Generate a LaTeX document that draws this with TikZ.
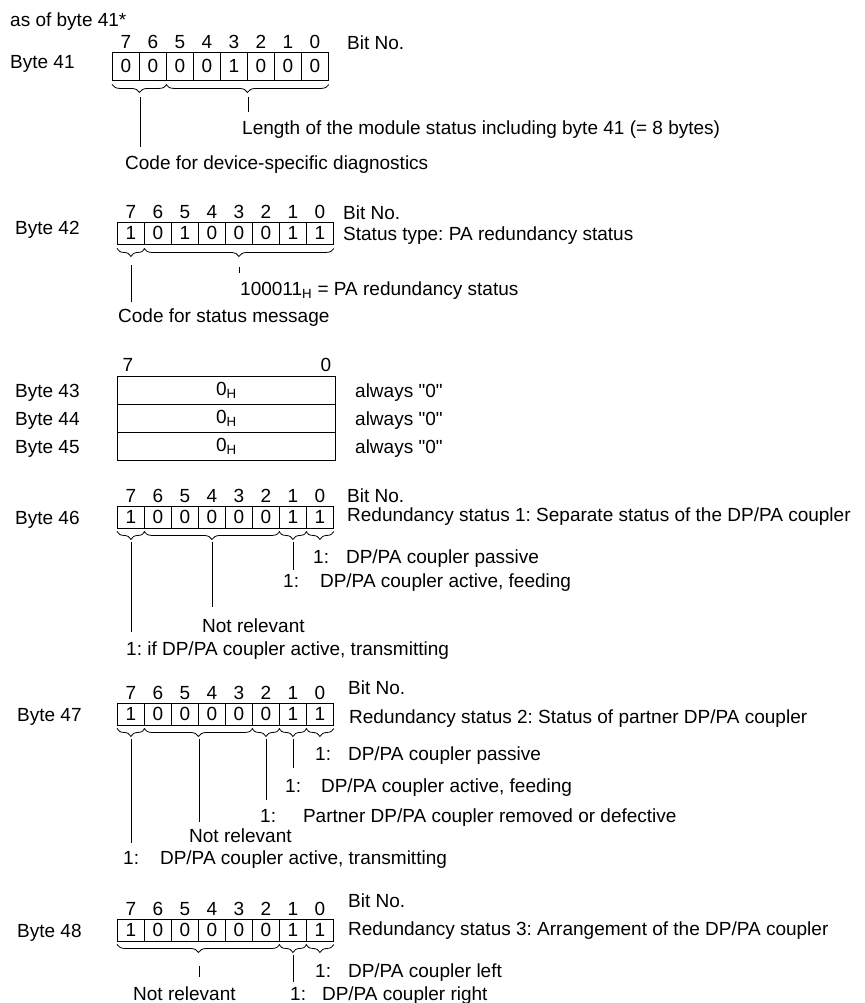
\documentclass[tikz,border=0pt]{standalone}
\usepackage{fontspec}
\setmainfont{Liberation Sans}[Ligatures=TeXOff]
\usetikzlibrary{positioning,calc,decorations.pathreplacing}
\frenchspacing

% eight bit cells of one byte: #1 name, #2 left x, #3 mid y, #4 height, #5 values of bits 7..0
\newcommand{\bytecells}[5]{%
  \foreach \v [count=\i from 0] in {#5}{%
    \pgfmathtruncatemacro\b{7-\i}%
    \node[cell,minimum height=#4] (c#1-\b) at (#2+27*\i,#3) {\v};
    \node[bitno,above=3pt of c#1-\b] (n#1-\b) {\b};
  }}

\begin{document}
\begin{tikzpicture}[x=1pt,y=-1pt,
  font=\fontsize{19}{22}\selectfont,
  txt/.style={anchor=west,inner sep=0pt,text height=14pt,text depth=4pt},
  cell/.style={draw,line width=0.9pt,anchor=west,minimum width=27pt,inner sep=0pt},
  bitno/.style={inner sep=0pt},
  row/.style={draw,line width=0.9pt,anchor=west,minimum width=218pt,minimum height=28pt,inner sep=0pt},
  brc/.style={decorate,decoration={brace,mirror,amplitude=8pt},line width=0.8pt},
  lead/.style={line width=0.8pt}]
\useasboundingbox (0,0) rectangle (864,1003);

\node[txt] (hdr) at (10,22) {as of byte 41*};

% byte 41
\node[txt] (by41) at (10,64) {Byte 41};
\bytecells{41}{112}{66}{28pt}{0,0,0,0,1,0,0,0}
\node[txt] (bn41) at (347,45) {Bit No.};
\draw[brc] ($(c41-7.south west)+(0,4)$) -- ($(c41-6.south east)+(0,4)$);
\draw[brc] ($(c41-5.south west)+(0,4)$) -- ($(c41-0.south east)+(0,4)$);
\coordinate (t41a) at ($(c41-7.south east)+(0,12)$);
\coordinate (t41b) at ($(c41-3.south east)+(0,12)$);
\draw[lead] ($(t41a)+(0,5)$) -- (t41a |- 0,147);
\draw[lead] ($(t41b)+(0,5)$) -- (t41b |- 0,112);
\node[txt] (len41) at (242,130) {Length of the module status including byte 41 (= 8 bytes)};
\node[txt] (code41) at (125,165) {Code for device-specific diagnostics};

% byte 42
\node[txt] (by42) at (15,229) {Byte 42};
\bytecells{42}{117}{233}{22pt}{1,0,1,0,0,0,1,1}
\node[txt] (bn42) at (343,214) {Bit No.};
\node[txt] (st42) at (343,235) {Status type: PA redundancy status};
\draw[brc] ($(c42-7.south west)+(0,4)$) -- ($(c42-7.south east)+(0,4)$);
\draw[brc] ($(c42-6.south west)+(0,4)$) -- ($(c42-0.south east)+(0,4)$);
\coordinate (t42a) at ($(c42-7.south)+(0,12)$);
\coordinate (t42b) at ($(c42-3.south)+(0,12)$);
\draw[lead] ($(t42a)+(0,9)$) -- (t42a |- 0,302);
\draw[lead] ($(t42b)+(0,11)$) -- (t42b |- 0,273);
\node[txt] (hx42) at (240,290) {100011\textsubscript{H} = PA redundancy status};
\node[txt] (code42) at (118,317) {Code for status message};

% bytes 43 to 45
\node[bitno] (n43-7) at (128,365) {7};
\node[bitno] (n43-0) at (326,365) {0};
\foreach \k/\y in {43/390,44/418,45/446}{
  \node[row] (r\k) at (117,\y) {0\textsubscript{H}};
  \node[txt] (by\k) at (15,\y+2) {Byte \k};
  \node[txt] (al\k) at (355,\y+2) {always "0"};
}

% byte 46
\node[txt] (by46) at (15,519) {Byte 46};
\bytecells{46}{117}{517}{22pt}{1,0,0,0,0,0,1,1}
\node[txt] (bn46) at (347,497) {Bit No.};
\node[txt] (rs46) at (347,516) {Redundancy status 1: Separate status of the DP/PA coupler};
\draw[brc] ($(c46-7.south west)+(0,3)$) -- ($(c46-7.south east)+(0,3)$);
\draw[brc] ($(c46-6.south west)+(0,3)$) -- ($(c46-2.south east)+(0,3)$);
\draw[brc] ($(c46-1.south west)+(0,3)$) -- ($(c46-1.south east)+(0,3)$);
\draw[brc] ($(c46-0.south west)+(0,3)$) -- ($(c46-0.south east)+(0,3)$);
\coordinate (t46a) at ($(c46-7.south)+(0,11)$);
\coordinate (t46b) at ($(c46-4.south)+(0,11)$);
\coordinate (t46c) at ($(c46-1.south)+(0,11)$);
\draw[lead] ($(t46a)+(0,3)$) -- (t46a |- 0,632);
\draw[lead] ($(t46b)+(0,3)$) -- (t46b |- 0,607);
\draw[lead] ($(t46c)+(0,3)$) -- (t46c |- 0,570);
\node[txt] (p46) at (313,558) {1:\hspace{17pt}DP/PA coupler passive};
\node[txt] (f46) at (283,582) {1:\hspace{21pt}DP/PA coupler active, feeding};
\node[txt] (nr46) at (202,627) {Not relevant};
\node[txt] (tr46) at (126,650) {1: if DP/PA coupler active, transmitting};

% byte 47
\node[txt] (by47) at (17,716) {Byte 47};
\bytecells{47}{117}{714}{22pt}{1,0,0,0,0,0,1,1}
\node[txt] (bn47) at (348,689) {Bit No.};
\node[txt] (rs47) at (349,718) {Redundancy status 2: Status of partner DP/PA coupler};
\draw[brc] ($(c47-7.south west)+(0,3)$) -- ($(c47-7.south east)+(0,3)$);
\draw[brc] ($(c47-6.south west)+(0,3)$) -- ($(c47-3.south east)+(0,3)$);
\draw[brc] ($(c47-2.south west)+(0,3)$) -- ($(c47-2.south east)+(0,3)$);
\draw[brc] ($(c47-1.south west)+(0,3)$) -- ($(c47-1.south east)+(0,3)$);
\draw[brc] ($(c47-0.south west)+(0,3)$) -- ($(c47-0.south east)+(0,3)$);
\coordinate (t47a) at ($(c47-7.south)+(0,11)$);
\coordinate (t47b) at ($(c47-5.south east)+(0,11)$);
\coordinate (t47c) at ($(c47-2.south)+(0,11)$);
\coordinate (t47d) at ($(c47-1.south)+(0,11)$);
\draw[lead] ($(t47a)+(0,3)$) -- (t47a |- 0,843);
\draw[lead] ($(t47b)+(0,3)$) -- (t47b |- 0,822);
\draw[lead] ($(t47c)+(0,3)$) -- (t47c |- 0,800);
\draw[lead] ($(t47d)+(0,3)$) -- (t47d |- 0,768);
\node[txt] (p47) at (315,755) {1:\hspace{17pt}DP/PA coupler passive};
\node[txt] (f47) at (285,787) {1:\hspace{20pt}DP/PA coupler active, feeding};
\node[txt] (pd47) at (260,817) {1:\hspace{27pt}Partner DP/PA coupler removed or defective};
\node[txt] (nr47) at (189,837) {Not relevant};
\node[txt] (tr47) at (123,859) {1:\hspace{21pt}DP/PA coupler active, transmitting};

% byte 48
\node[txt] (by48) at (17,932) {Byte 48};
\bytecells{48}{117}{930}{22pt}{1,0,0,0,0,0,1,1}
\node[txt] (bn48) at (348,902) {Bit No.};
\node[txt] (rs48) at (348,930) {Redundancy status 3: Arrangement of the DP/PA coupler};
\draw[brc] ($(c48-7.south west)+(0,3)$) -- ($(c48-2.south east)+(0,3)$);
\draw[brc] ($(c48-1.south west)+(0,3)$) -- ($(c48-1.south east)+(0,3)$);
\draw[brc] ($(c48-0.south west)+(0,3)$) -- ($(c48-0.south east)+(0,3)$);
\coordinate (t48a) at ($(c48-5.south east)+(0,11)$);
\coordinate (t48b) at ($(c48-1.south)+(0,11)$);
\draw[lead] ($(t48a)+(0,14)$) -- (t48a |- 0,977);
\draw[lead] ($(t48b)+(0,3)$) -- (t48b |- 0,982);
\node[txt] (lf48) at (315,972) {1:\hspace{17pt}DP/PA coupler left};
\node[txt] (rt48) at (290,995) {1:\hspace{16pt}DP/PA coupler right};
\node[txt] (nr48) at (133,995) {Not relevant};
\end{tikzpicture}
\end{document}
